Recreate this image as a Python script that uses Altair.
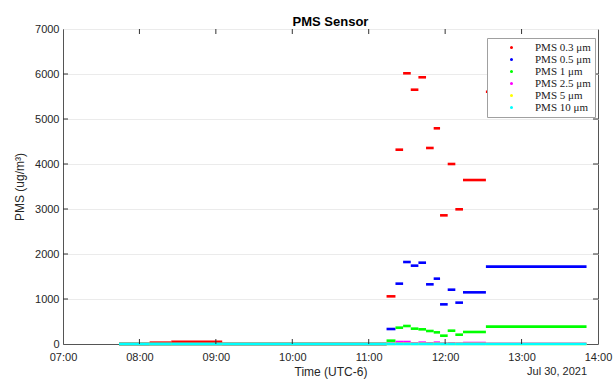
import altair as alt
import pandas as pd

# Segment boundaries (local time, 2021-07-30)
times = ["07:44", "08:08", "08:25", "09:05", "11:14", "11:21", "11:27", "11:33",
         "11:39", "11:45", "11:51", "11:56", "12:02", "12:08", "12:14", "12:32", "13:51"]

series_names = ["PMS 0.3 μm", "PMS 0.5 μm", "PMS 1 μm", "PMS 2.5 μm", "PMS 5 μm", "PMS 10 μm"]
series_colors = ["#ff0000", "#0000ff", "#00ff00", "#ff00ff", "#ffff00", "#00ffff"]

pms_03 = [0, 30, 50, 0, 1059, 4318, 6016, 5651, 5927, 4356, 4793, 2859, 4000, 2993, 3644, 5607]
pms_05 = [0, 0, 0, 0, 333, 1341, 1822, 1741, 1807, 1326, 1452, 881, 1207, 919, 1148, 1719]
pms_1 = [0, 0, 0, 0, 74, 363, 400, 341, 326, 289, 259, 185, 296, 207, 267, 385]
pms_25 = [0, 0, 0, 0, 10, 44, 44, 15, 30, 15, 30, 10, 15, 10, 22, 5]
pms_5 = [0, 0, 0, 0, 2, 5, 5, 3, 4, 3, 4, 2, 3, 2, 3, 1]
pms_10 = [0, 0, 0, 0, 0, 0, 0, 0, 0, 0, 0, 0, 0, 0, 0, 0]

x_tick_hours = [8, 9, 10, 11, 12, 13]
x_label_hours = [7, 8, 9, 10, 11, 12, 13, 14]
y_tick_values = [1000, 2000, 3000, 4000, 5000, 6000]
y_label_values = [0, 1000, 2000, 3000, 4000, 5000, 6000, 7000]
date_label = ["Jul 30, 2021"]

rows = []
for k, (name, vals) in enumerate(zip(series_names, [pms_03, pms_05, pms_1, pms_25, pms_5, pms_10])):
    for i, v in enumerate(vals):
        rows.append({"series": name, "order": k,
                     "start": f"2021-07-30T{times[i]}:00",
                     "end": f"2021-07-30T{times[i + 1]}:00",
                     "value": v})
df = pd.DataFrame(rows)

W, H = 535, 315
FONT = "Liberation Sans"
TXT = "#262626"


def dt(h):
    return alt.DateTime(year=2021, month=7, date=30, hours=h)


xscale = alt.Scale(domain=[dt(7), dt(14)])
yscale = alt.Scale(domain=[0, 7000], nice=False)

x_axis = alt.Axis(values=[dt(h) for h in x_label_hours], format="%H:%M",
                  title="Time (UTC-6)", grid=False, ticks=False,
                  labelFont=FONT, labelFontSize=11, labelColor=TXT,
                  titleFont=FONT, titleFontSize=12, titleFontWeight="normal",
                  titleColor=TXT, labelPadding=7, titlePadding=4,
                  domainColor="#555", labelFlush=False)
y_axis = alt.Axis(values=y_label_values, format="d", grid=True, gridColor="#ebebeb",
                  ticks=False, title="PMS (ug/m³)",
                  labelFont=FONT, labelFontSize=11, labelColor=TXT,
                  titleFont=FONT, titleFontSize=12, titleFontWeight="normal",
                  titleColor=TXT, labelPadding=4, titlePadding=8,
                  domainColor="#555")

main = alt.Chart(df).mark_rule(strokeWidth=2.6, strokeCap="butt").encode(
    x=alt.X("start:T", scale=xscale, axis=x_axis),
    x2="end:T",
    y=alt.Y("value:Q", scale=yscale, axis=y_axis),
    color=alt.Color("series:N",
                    scale=alt.Scale(domain=series_names, range=series_colors),
                    legend=alt.Legend(title=None, orient="none", legendX=424, legendY=9,
                                      fillColor="white", strokeColor="#a0a0a0",
                                      padding=4, symbolType="circle", symbolSize=2,
                                      symbolStrokeWidth=1.6, symbolOffset=15,
                                      labelOffset=18, rowPadding=0,
                                      labelFont="Liberation Serif", labelFontSize=11,
                                      labelColor="#222")),
    order=alt.Order("order:Q"),
)

xt = pd.DataFrame({"t": [f"2021-07-30T{h:02d}:00:00" for h in x_tick_hours]})
yt = pd.DataFrame({"v": y_tick_values})

xt_bottom = alt.Chart(xt).mark_rule(color="#333", strokeWidth=1).encode(
    x=alt.X("t:T", scale=xscale, axis=x_axis), y=alt.value(H), y2=alt.value(H - 5))
xt_top = alt.Chart(xt).mark_rule(color="#333", strokeWidth=1).encode(
    x=alt.X("t:T", scale=xscale, axis=x_axis), y=alt.value(0), y2=alt.value(5))
yt_left = alt.Chart(yt).mark_rule(color="#333", strokeWidth=1).encode(
    y=alt.Y("v:Q", scale=yscale, axis=y_axis), x=alt.value(0), x2=alt.value(5))
yt_right = alt.Chart(yt).mark_rule(color="#333", strokeWidth=1).encode(
    y=alt.Y("v:Q", scale=yscale, axis=y_axis), x=alt.value(W - 5), x2=alt.value(W))

date_text = alt.Chart(pd.DataFrame({"label": date_label})).mark_text(
    align="right", baseline="top", font=FONT, fontSize=11, color=TXT
).encode(x=alt.value(W - 11), y=alt.value(H + 22), text="label:N")

chart = alt.layer(main, xt_bottom, xt_top, yt_left, yt_right, date_text).properties(
    width=W, height=H,
    title=alt.TitleParams("PMS Sensor", font=FONT, fontSize=13, fontWeight="bold",
                          color="#000", anchor="middle", offset=-6),
    autosize=alt.AutoSizeParams(type="none"),
    padding={"left": 63, "top": 29, "right": 17, "bottom": 37},
).configure_view(stroke="#555", strokeWidth=1)

chart.save("out.html", embed_options={"renderer": "svg", "actions": False})
